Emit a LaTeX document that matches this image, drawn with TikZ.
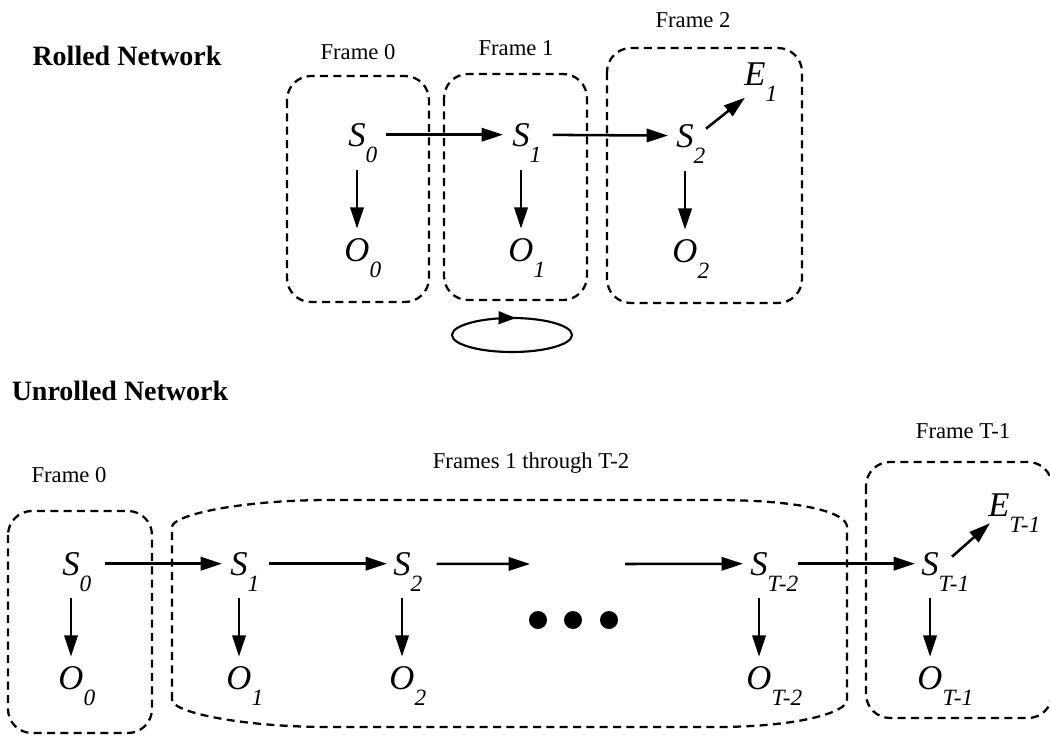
\documentclass[tikz,border=0pt]{standalone}
\usepackage{fontspec}
\setmainfont{Liberation Serif}
\usetikzlibrary{arrows.meta,decorations.markings}

% variable with a lowered subscript that does not widen the node
\newcommand{\varsub}[2]{#1\rlap{\smash{\raisebox{-12pt}{\fontsize{17.5}{17.5}\selectfont #2}}}}

\tikzset{
  var/.style={inner sep=0pt, outer sep=0pt, anchor=base,
              font=\fontsize{26}{26}\selectfont\itshape},
  arr/.style={line width=1.9pt, -{Triangle[length=16pt,width=10pt]}},
  down/.style={arr, shorten <=18pt, shorten >=7pt},
  framebox/.style={line width=1.7pt, dash pattern=on 6pt off 4pt, rounded corners=18pt},
  lab/.style={anchor=base, inner sep=0pt, font=\fontsize{17}{17}\selectfont},
  heading/.style={anchor=base, inner sep=0pt, font=\fontsize{21}{21}\selectfont\bfseries},
  dot/.style={circle, fill, inner sep=0pt, minimum size=13.5pt},
}

\begin{document}
\begin{tikzpicture}[x=0.75pt, y=-0.75pt]
\useasboundingbox (0,0) rectangle (1050,736);

% ---------------- rolled network ----------------
\node[heading] (tr) at (127,65) {Rolled Network};
\node[lab] (f0) at (358,59) {Frame 0};
\node[lab] (f1) at (516,55) {Frame 1};
\node[lab] (f2) at (693,27) {Frame 2};

\draw[framebox] (287,76) rectangle (429,302);
\draw[framebox] (444,74) rectangle (587,300);
\draw[framebox] (607,48) rectangle (802,303);

\node[var] (S0) at (357,146) {\varsub{S}{0}};
\node[var] (S1) at (521,146) {\varsub{S}{1}};
\node[var] (S2) at (685,147) {\varsub{S}{2}};
\node[var] (O0) at (357,261) {\varsub{O}{0}};
\node[var] (O1) at (521,261) {\varsub{O}{1}};
\node[var] (O2) at (685,262) {\varsub{O}{2}};
\node[var] (E1) at (755,85) {\varsub{E}{1}};

\draw[arr, shorten <=15pt, shorten >=7pt] (S0) -- (S1);
\draw[arr, shorten <=17.25pt, shorten >=6.25pt] (S1) -- (S2);
\draw[down] (S0) -- (O0);
\draw[down] (S1) -- (O1);
\draw[down] (S2) -- (O2);
\draw[arr] ([shift={(21,-7)}]S2.center) -- ([shift={(-10,24)}]E1.center);

% self loop of the rolled network
\draw[line width=1.6pt, postaction={decorate},
      decoration={markings, mark=at position 0.235 with {\arrowreversed{Triangle[length=13pt,width=9.5pt]}}}]
  (512,335) ellipse [x radius=45pt, y radius=12.75pt];

% ---------------- unrolled network ----------------
\node[heading] (tu) at (120,400) {Unrolled Network};
\node[lab] (g0) at (69,482) {Frame 0};
\node[lab] (gm) at (531,468) {Frames 1 through T-2};
\node[lab] (gl) at (963,438) {Frame T-1};

\draw[framebox] (8,511) rectangle (152,733);
\draw[framebox] (866,462) rectangle (1052,718);
\draw[line width=1.7pt, dash pattern=on 6pt off 4pt]
  (172,700) -- (172,527) .. controls (172,515) and (240,500) .. (330,500)
  -- (715,500) .. controls (800,500) and (847,512) .. (847,527)
  -- (847,700) .. controls (847,712) and (800,727) .. (715,727)
  -- (330,727) .. controls (240,727) and (172,712) .. (172,700) -- cycle;

\node[var] (U0) at (71,575) {\varsub{S}{0}};
\node[var] (U1) at (239,575) {\varsub{S}{1}};
\node[var] (U2) at (402,575) {\varsub{S}{2}};
\node[var] (Ua) at (759,575) {\varsub{S}{T-2}};
\node[var] (Ub) at (930,575) {\varsub{S}{T-1}};
\node[var] (P0) at (71,689) {\varsub{O}{0}};
\node[var] (P1) at (239,689) {\varsub{O}{1}};
\node[var] (P2) at (402,689) {\varsub{O}{2}};
\node[var] (Pa) at (759,689) {\varsub{O}{T-2}};
\node[var] (Pb) at (930,689) {\varsub{O}{T-1}};
\node[var] (Eb) at (999,516) {\varsub{E}{T-1}};

\coordinate (gapL) at (530,564);
\coordinate (gapR) at (625,564);

\draw[arr, shorten <=19pt, shorten >=6.25pt] (U0) -- (U1);
\draw[arr, shorten <=16pt, shorten >=4.75pt] (U1) -- (U2);
\draw[arr, shorten <=19.5pt] (U2) -- (gapL);
\draw[arr, shorten >=5.5pt] (gapR) -- (Ua);
\draw[arr, shorten <=22.5pt, shorten >=4.75pt] (Ua) -- (Ub);
\draw[down, shorten <=17pt] (U0) -- (P0);
\draw[down, shorten <=17pt] (U1) -- (P1);
\draw[down, shorten <=17pt] (U2) -- (P2);
\draw[down, shorten <=17pt] (Ua) -- (Pa);
\draw[down, shorten <=17pt] (Ub) -- (Pb);
\draw[arr] ([shift={(22,-7)}]Ub.center) -- ([shift={(-9,18.5)}]Eb.center);

\node[dot] (d1) at (538,620) {};
\node[dot] (d2) at (573,620) {};
\node[dot] (d3) at (609,620) {};
\end{tikzpicture}
\end{document}
